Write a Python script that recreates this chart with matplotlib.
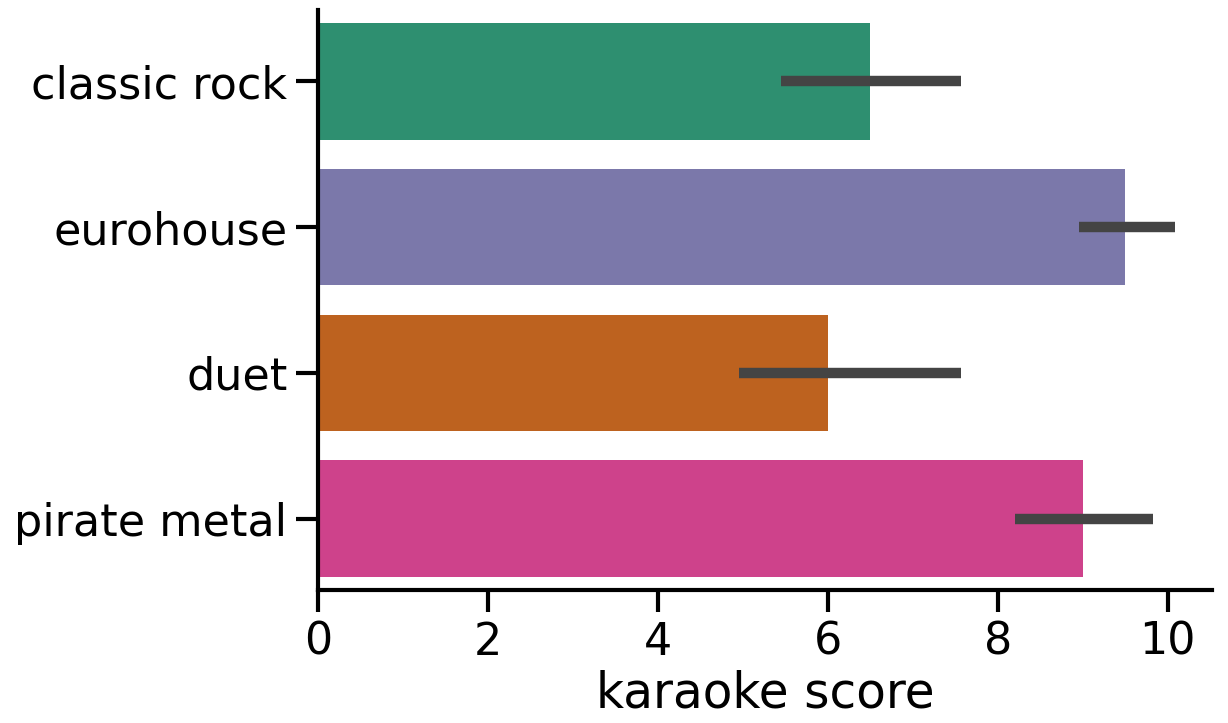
import matplotlib
matplotlib.use("Agg")
import matplotlib.pyplot as plt
import numpy as np

genres = ["classic rock", "eurohouse", "duet", "pirate metal"]
scores = [6.5, 9.5, 6.0, 9.0]
ci_low = [5.45, 8.95, 4.95, 8.2]
ci_high = [7.57, 10.08, 7.57, 9.82]
colors = ["#2e8f70", "#7b78aa", "#bd621f", "#ce428b"]

fig = plt.figure(figsize=(12.28, 7.23), dpi=100)
ax = fig.add_axes([318 / 1228, 133 / 723, 894 / 1228, 580 / 723])

ypos = np.arange(len(genres))
ax.barh(ypos, scores, height=0.8, color=colors)
ax.hlines(ypos, ci_low, ci_high, color="#444444", linewidth=7.5)

ax.set_yticks(ypos)
ax.set_yticklabels(genres)
ax.set_ylim(3.49, -0.49)
ax.set_xlim(0, 10.52)
ax.set_xticks([0, 2, 4, 6, 8, 10])
ax.set_xlabel("karaoke score", fontsize=35, labelpad=4)

ax.tick_params(labelsize=32, width=3, length=16, pad=6)
for side in ["top", "right"]:
    ax.spines[side].set_visible(False)
for side in ["left", "bottom"]:
    ax.spines[side].set_linewidth(3)

fig.savefig("out.png", dpi=100)
plt.close(fig)
